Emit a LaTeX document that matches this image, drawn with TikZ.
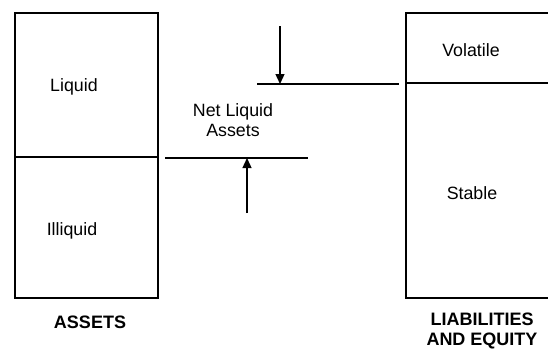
\documentclass[tikz,border=0pt]{standalone}
\usepackage{fontspec}
\setmainfont{Liberation Sans}
\usetikzlibrary{arrows.meta}
\begin{document}
\begin{tikzpicture}[x=1pt,y=-1pt,>={Triangle[length=10pt,width=9pt]},line join=miter,font=\fontsize{17.8}{20}\selectfont]
	\useasboundingbox (0,0) rectangle (548,354);
	\clip (0,0) rectangle (548,354);
	\tikzset{box/.style={line width=1.1pt},level/.style={line width=1.6pt},lbl/.style={inner sep=0pt},head/.style={lbl,font=\fontsize{18}{20}\selectfont\bfseries,align=center}}
	% assets
	\draw[box] (15,13) rectangle (158,298);
	\draw[box] (15,157) -- (158,157);
	\node[lbl] (liquid) at (74,87) {Liquid};
	\node[lbl] (illiquid) at (72,231) {Illiquid};
	\node[head] (assets) at (90,322) {ASSETS};
	% liabilities and equity
	\draw[box] (552,13) -- (406,13) -- (406,298) -- (552,298);
	\draw[box] (406,83) -- (552,83);
	\node[lbl] (volatile) at (471,50) {Volatile};
	\node[lbl] (stable) at (472,193) {Stable};
	\node[head] (liab) at (482,331) {LIABILITIES\\AND EQUITY};
	% net liquid assets
	\coordinate (upL) at (257,84);
	\coordinate (upR) at (399,84);
	\coordinate (lowL) at (165,158);
	\coordinate (lowR) at (308,158);
	\coordinate (upTail) at (280,26);
	\coordinate (upTip) at (280,84);
	\coordinate (lowTail) at (247,213);
	\coordinate (lowTip) at (247,158);
	\draw[level] (upL) -- (upR);
	\draw[level] (lowL) -- (lowR);
	\draw[->,line width=1.3pt] (upTail) -- (upTip);
	\draw[->,line width=1.3pt] (lowTail) -- (lowTip);
	\node[lbl,align=center] (nla) at (233,120) {Net Liquid\\Assets};
\end{tikzpicture}
\end{document}
